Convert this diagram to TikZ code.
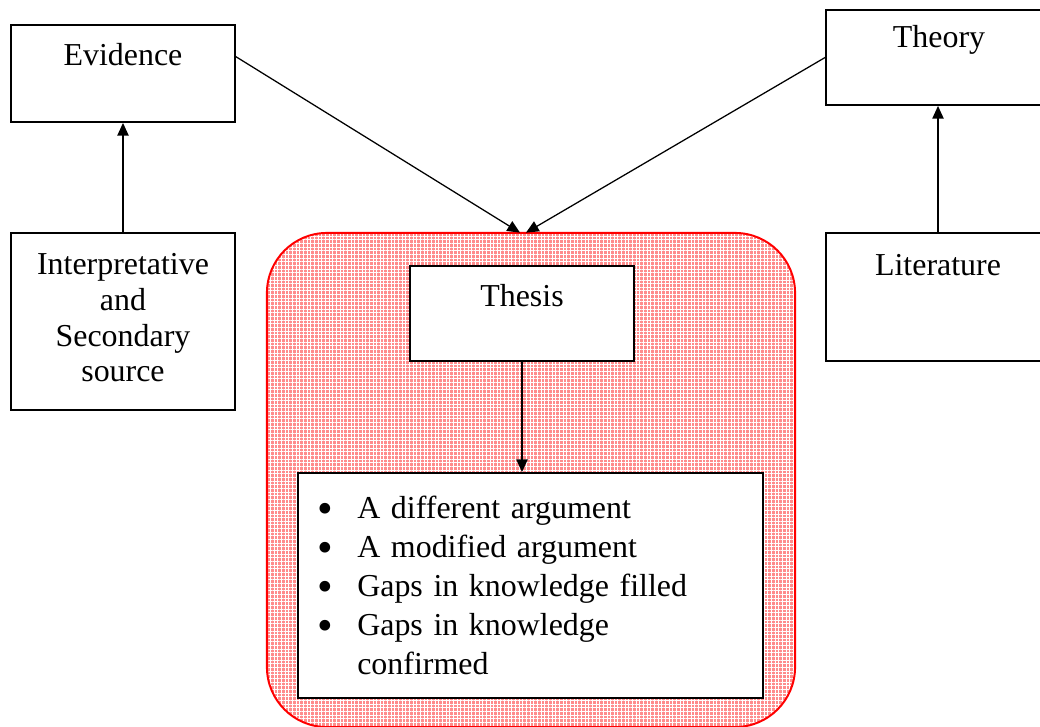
\documentclass[tikz,border=0pt]{standalone}
\usepackage{fontspec}
\setmainfont{Liberation Serif}
\usetikzlibrary{arrows.meta, calc, patterns.meta}

\begin{document}
\begin{tikzpicture}[x=0.025cm, y=-0.025cm, >={Triangle[length=9pt, width=8pt]},
    box/.style={draw, line width=1.3pt, fill=white, inner sep=0pt, minimum width=5.6cm},
    lbl/.style={font=\fontsize{22.7}{25.4}\selectfont, align=center, inner sep=0pt},
    link/.style={->, line width=0.9pt}]
  \useasboundingbox (0,0) rectangle (1040,726);

  % shaded area round the thesis
  \node[fill=red!45, rounded corners=1.5cm,
        minimum width=13.2cm, minimum height=12.35cm,
        postaction={pattern={Lines[angle=0, distance=2.6pt, line width=0.6pt]}, pattern color=white},
        postaction={pattern={Lines[angle=90, distance=2.6pt, line width=0.6pt]}, pattern color=white},
        postaction={draw=red, line width=1.4pt}]
    (frame) at (531,480) {};

  \node[box, minimum height=2.425cm] (evidence) at (123,73.5) {};
  \node[lbl] (evidencetxt) at (123,55) {Evidence};
  \node[box, minimum height=2.375cm] (theory) at (938,57.5) {};
  \node[lbl] (theorytxt) at (939,40) {Theory};
  \node[box, minimum height=4.425cm] (source) at (123,321.5) {};
  \node[lbl] (sourcetxt) at (123,318) {Interpretative\\and\\Secondary\\source};
  \node[box, minimum height=3.2cm] (literature) at (938,297) {};
  \node[lbl] (literaturetxt) at (938,265) {Literature};
  \node[box, minimum height=2.375cm] (thesis) at (522,313.5) {};
  \node[lbl] (thesistxt) at (522,296) {Thesis};
  \node[box, minimum width=11.625cm, minimum height=5.625cm] (outcomes) at (530.5,585.5) {};

  \node[anchor=north west, inner sep=0pt, text width=11cm, align=left,
        font=\fontsize{22.7}{27.7}\selectfont] (outcomestxt) at (318,479)
    {\begin{list}{\smash{\raisebox{-0.17em}{\scalebox{1.4}{\textbullet}}}}{\setlength\leftmargin{0.975cm}\setlength\labelsep{0.6cm}%
       \setlength\itemsep{0pt}\setlength\parsep{0pt}\setlength\topsep{0pt}}
     \item A different argument
     \item A modified argument
     \item Gaps in knowledge filled
     \item Gaps in knowledge\newline confirmed
     \end{list}};

  \draw[link] (source) -- (evidence);
  \draw[link] (literature) -- (theory);
  \draw[link] (thesis.south) -- (thesis.south |- outcomes.north);
  \draw[link] ($(evidence.north east)!0.33!(evidence.south east)$) -- ($(frame.north -| thesis)+(-2,0)$);
  \draw[link] (theory.west) -- ($(frame.north -| thesis)+(4,0)$);
\end{tikzpicture}
\end{document}
